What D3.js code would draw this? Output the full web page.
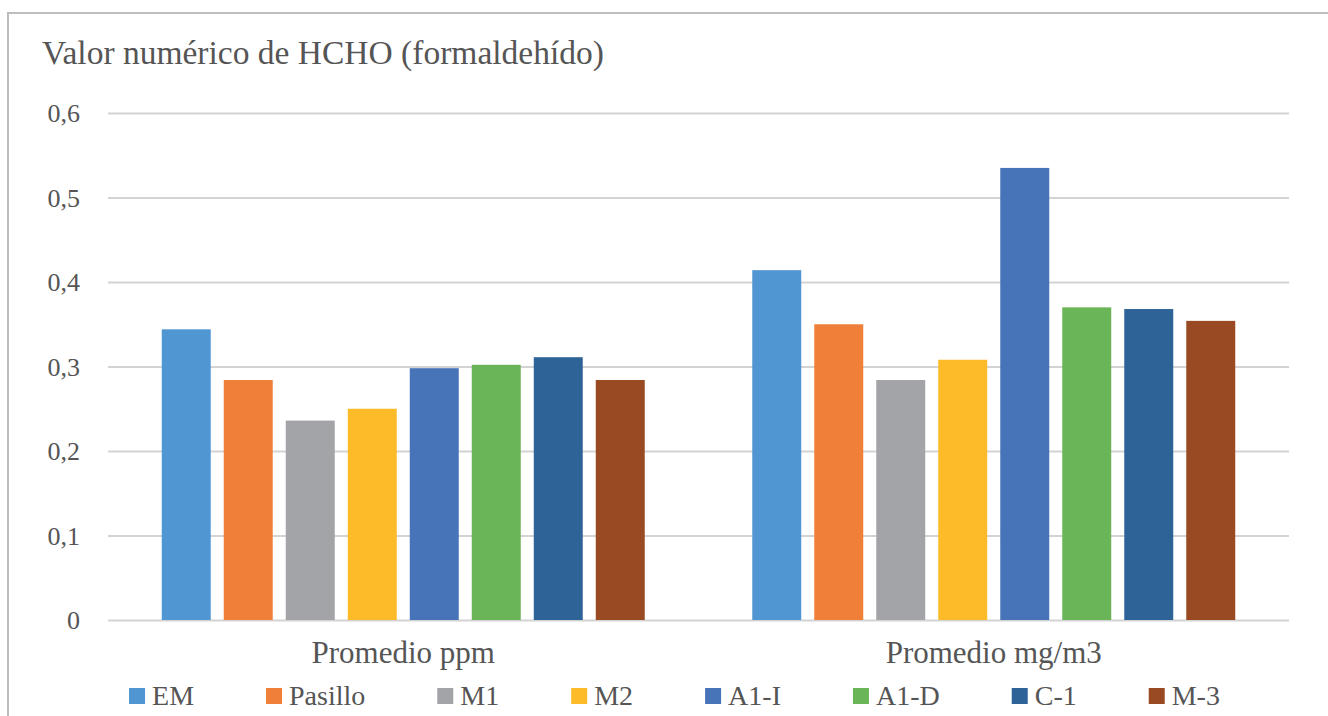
<!DOCTYPE html>
<html>
<head>
<meta charset="utf-8">
<script src="https://cdn.jsdelivr.net/npm/d3@7"></script>
<style>
  html, body { margin: 0; padding: 0; background: #fff; }
  svg { display: block; }
  svg text { font-family: 'Liberation Serif', 'DejaVu Serif', serif; fill: #555; }
</style>
</head>
<body>
<svg id="chart" width="1328" height="716"></svg>
<script>
// Groups along the x axis
const groups = ["Promedio ppm", "Promedio mg/m3"];
// Sampling locations (one bar per location in each group)
const locations = ["EM", "Pasillo", "M1", "M2", "A1-I", "A1-D", "C-1", "M-3"];
// Average HCHO per location
const ppmValues = [0.344, 0.284, 0.236, 0.250, 0.298, 0.302, 0.311, 0.284];
const mgm3Values = [0.414, 0.350, 0.284, 0.308, 0.535, 0.370, 0.368, 0.354];
// Y axis ticks
const yTicks = [0, 0.1, 0.2, 0.3, 0.4, 0.5, 0.6];
const colors = ["#5096d2", "#f08039", "#a2a4a7", "#fdbb2a", "#4773b8", "#6ab557", "#2d6397", "#9a4a22"];

const seriesByGroup = [ppmValues, mgm3Values];
const FONT = "'Liberation Serif', 'DejaVu Serif', serif";

const svg = d3.select("#chart");

// Chart frame
svg.append("rect")
  .attr("x", 8).attr("y", 13)
  .attr("width", 1400).attr("height", 800)
  .attr("fill", "none").attr("stroke", "#bdbdbd").attr("stroke-width", 2);

// Title
svg.append("text")
  .attr("x", 42).attr("y", 64)
  .attr("font-family", FONT)
  .attr("font-size", 33.5)
  .text("Valor numérico de HCHO (formaldehído)");

const plot = { left: 108, right: 1289, top: 113, bottom: 620 };

const y = d3.scaleLinear().domain([0, 0.6]).range([plot.bottom, plot.top]);
const x0 = d3.scaleBand().domain(groups).range([plot.left, plot.right]).paddingInner(0).paddingOuter(0);
const x1 = d3.scaleBand().domain(locations).range([0, x0.bandwidth()])
  .paddingInner(0.21).paddingOuter(0.867);

const locale = d3.formatLocale({ decimal: ",", thousands: ".", grouping: [3], currency: ["", "€"] });
const fmt = v => v === 0 ? "0" : locale.format(".1f")(v);

// Gridlines and y labels
const yAxis = d3.axisLeft(y).tickValues(yTicks).tickFormat(fmt)
  .tickSize(-(plot.right - plot.left)).tickPadding(28);
const gy = svg.append("g").attr("transform", `translate(${plot.left},0)`).call(yAxis)
  .attr("font-family", FONT);
gy.select(".domain").remove();
gy.selectAll(".tick line").attr("stroke", "#d3d3d3").attr("stroke-width", 2.2);
gy.selectAll(".tick text")
  .attr("font-size", 26)
  .attr("font-family", FONT)
  .attr("fill", "#555")
  .attr("dy", "0.34em");

// Bars
const gGroups = svg.append("g").selectAll("g")
  .data(groups)
  .join("g")
  .attr("transform", d => `translate(${x0(d)},0)`);

gGroups.selectAll("rect")
  .data((g, gi) => locations.map((loc, i) => ({ loc, i, v: seriesByGroup[gi][i] })))
  .join("rect")
  .attr("x", d => x1(d.loc))
  .attr("y", d => y(d.v))
  .attr("width", x1.bandwidth())
  .attr("height", d => y(0) - y(d.v))
  .attr("fill", d => colors[d.i]);

// Category labels
svg.append("g").selectAll("text")
  .data(groups)
  .join("text")
  .attr("x", d => x0(d) + x0.bandwidth() / 2)
  .attr("y", 663)
  .attr("text-anchor", "middle")
  .attr("font-family", FONT)
  .attr("font-size", 31)
  .text(d => d);

// Legend
const legend = svg.append("g");
const items = legend.selectAll("g")
  .data(locations)
  .join("g");
items.append("rect")
  .attr("width", 16).attr("height", 16)
  .attr("y", 688)
  .attr("fill", (d, i) => colors[i]);
items.append("text")
  .attr("x", 23).attr("y", 705)
  .attr("font-family", FONT)
  .attr("font-size", 28)
  .text(d => d);

let cursor = 0;
const offsets = [];
items.each(function () {
  const w = d3.select(this).select("text").node().getComputedTextLength();
  offsets.push(cursor);
  cursor += 23 + w + 72;
});
const total = cursor - 72;
const start = 674.5 - total / 2;
items.attr("transform", (d, i) => `translate(${start + offsets[i]},0)`);
</script>
</body>
</html>
